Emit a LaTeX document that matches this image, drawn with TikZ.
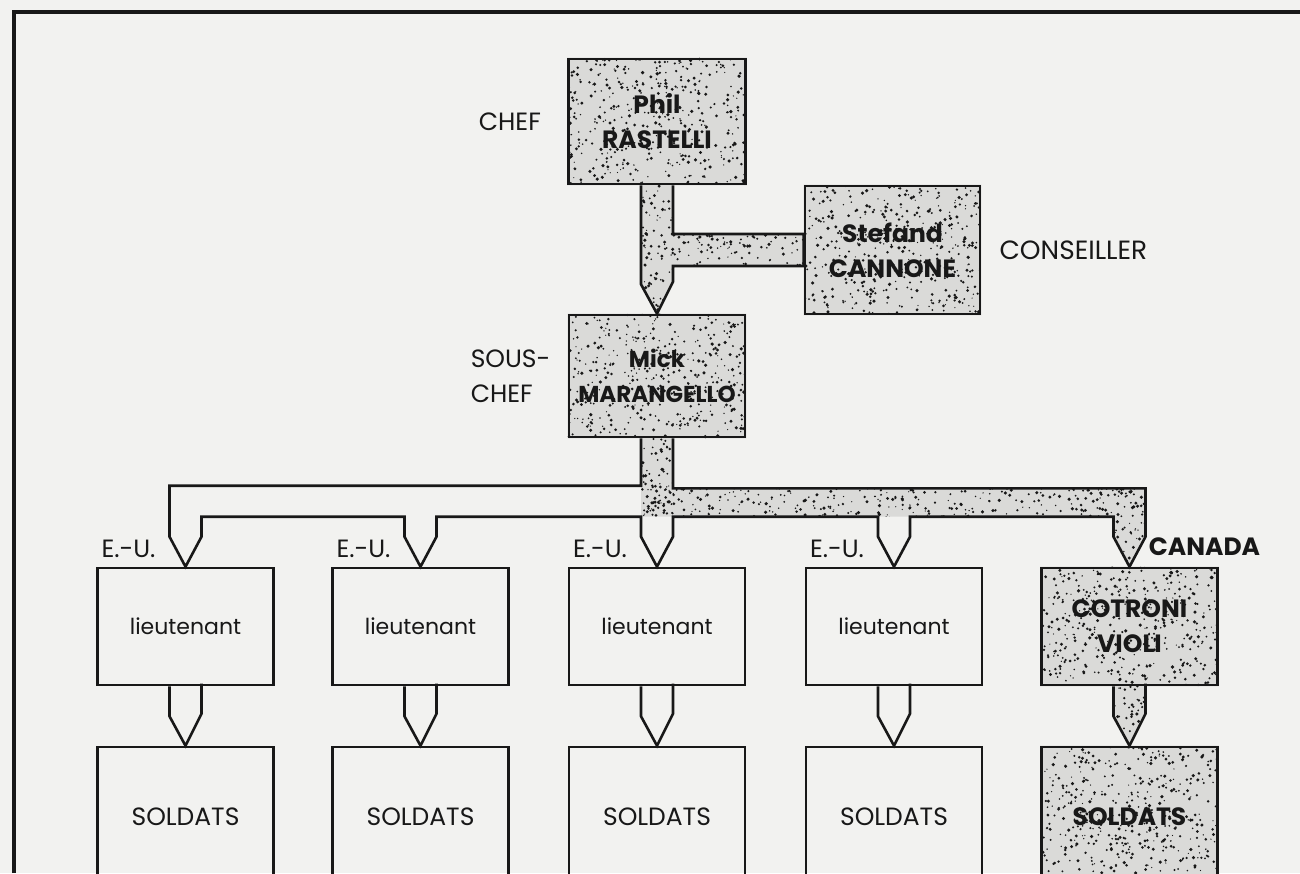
\documentclass[tikz,border=0pt]{standalone}
\usepackage{fontspec}
\setmainfont{Poppins}
\usetikzlibrary{calc,positioning}
\pgfdeclarelayer{back}
\pgfsetlayers{back,main}
\definecolor{paper}{RGB}{242,242,240}
\definecolor{stip}{RGB}{218,218,216}
\definecolor{ink}{RGB}{24,24,24}
\newcommand\orgfont{\fontsize{12.5}{17.5}\selectfont}
\newcommand\smallorg{\fontsize{11}{15}\selectfont}
\def\toppipe{($(rast.south)+(-16,0)$) -- ++(0,99) -- (mara.north) -- ++(16,-32) |- ($(cann.west)+(0,16)$) -- ($(cann.west)+(0,-16)$) -| ($(rast.south)+(16,0)$)}
\def\mainpipe{($(mara.south)+(-16,0)$) |- ($(lt1.north)+(-16,-81)$) -- ++(0,51) -- (lt1.north) -- ++(16,-30) |- ($(lt2.north)+(-16,-50)$) -- ++(0,20) -- (lt2.north) -- ++(16,-30) |- ($(lt3.north)+(-16,-50)$) -- ++(0,20) -- (lt3.north) -- ++(16,-30) |- ($(lt4.north)+(-16,-50)$) -- ++(0,20) -- (lt4.north) -- ++(16,-30) |- ($(lt5.north)+(-16,-50)$) -- ++(0,20) -- (lt5.north) -- ++(16,-30) |- ($(mara.south)+(16,50)$) -- ($(mara.south)+(16,0)$)}
\def\canpipe{($(mara.south)+(-16,0)$) |- ($(lt5.north)+(-16,-50)$) -- ++(0,20) -- (lt5.north) -- ++(16,-30) |- ($(mara.south)+(16,50)$) -- ($(mara.south)+(16,0)$)}
\def\canstub{($(lt5.south)+(-16,0)$) -- ++(0,30) -- (so5.north) -- ++(16,-32) -- ++(0,-30)}
\def\shaded{(rast.north west) rectangle (rast.south east) (cann.north west) rectangle (cann.south east) (mara.north west) rectangle (mara.south east) (lt5.north west) rectangle (lt5.south east) (so5.north west) rectangle (so5.south east) \toppipe -- cycle \canpipe -- cycle \canstub -- cycle}
\newcommand\speckle[5]{%
	\foreach \k in {1,...,#5}{%
		\pgfmathsetmacro\sx{#1+rnd*(#3-#1)}%
		\pgfmathsetmacro\sy{#2+rnd*(#4-#2)}%
		\pgfmathsetmacro\sr{0.3+rnd*0.6}%
		\fill[ink] (\sx,\sy) circle (\sr pt);
	}}

\begin{document}
\begin{tikzpicture}[x=0.5pt,y=-0.5pt,line width=1.3pt,
	box/.style={draw=ink,minimum width=88pt,font=\orgfont,text=ink,align=center,inner sep=0pt},
	boss/.style={box,font=\orgfont\bfseries},
	lieut/.style={box,minimum height=58.5pt,font=\smallorg},
	soldier/.style={box,minimum height=70pt},
	tag/.style={font=\orgfont,text=ink,inner sep=0pt,align=left},
	pipe/.style={draw=ink,line width=1.3pt,line join=miter}]
	\pgfmathsetseed{11}
	\clip (0,0) rectangle (1300,873);
	\node[boss,minimum width=88.5pt,minimum height=62.5pt] (rast) at (657,121.5) {Phil\\RASTELLI};
	\node[boss,minimum width=87.5pt,minimum height=64pt] (cann) at (892.5,250) {Stefand\\CANNONE};
	\node[boss,minimum height=61pt,font=\fontsize{11.5}{17.5}\selectfont\bfseries] (mara) at (657,376) {Mick\\MARANGELLO};
	\foreach \n/\x in {1/185.5,2/420.5,3/657,4/894}{
		\node[lieut] (lt\n) at (\x,626.5) {lieutenant};
		\node[soldier] (so\n) at (\x,817) {SOLDATS};
		\node[tag,anchor=south west] (eu\n) at ($(lt\n.north west)+(4,-8)$) {E.-U.};
	}
	\node[lieut,font=\orgfont\bfseries] (lt5) at (1129.5,626.5) {COTRONI\\VIOLI};
	\node[soldier,font=\orgfont\bfseries] (so5) at (1129.5,817) {SOLDATS};
	\node[tag,left=12.5pt of rast] (chef) {CHEF};
	\node[tag,right=8.5pt of cann,font=\fontsize{13.2}{17.5}\selectfont] (cons) {CONSEILLER};
	\node[tag,left=8pt of mara] (sous) {SOUS-\\CHEF};
	\node[tag,anchor=south west,font=\orgfont\bfseries] (can) at ($(lt5.north)+(18,-10)$) {CANADA};
	\begin{pgfonlayer}{back}
		\fill[paper] (0,0) rectangle (1300,873);
		\fill[stip] \shaded;
		\begin{scope}
			\clip \shaded;
			\speckle{568}{59}{746}{184}{420}
			\speckle{805}{186}{980}{314}{420}
			\speckle{569}{315}{745}{437}{410}
			\speckle{640}{184}{674}{316}{90}
			\speckle{672}{232}{806}{267}{90}
			\speckle{640}{437}{674}{520}{60}
			\speckle{640}{486}{1147}{520}{330}
			\speckle{1112}{486}{1147}{569}{60}
			\speckle{1040}{568}{1219}{685}{410}
			\speckle{1112}{685}{1147}{748}{45}
			\speckle{1040}{747}{1219}{873}{440}
		\end{scope}
		\draw[pipe] \toppipe;
		\draw[pipe] \mainpipe;
		\draw[pipe] \canstub;
		\foreach \n in {1,...,4}
			\draw[pipe] ($(lt\n.south)+(-16,0)$) -- ++(0,30) -- (so\n.north) -- ++(16,-32) -- ++(0,-30);
		\draw[ink,line width=2pt] (14,873) -- (14,12) -- (1300,12);
	\end{pgfonlayer}
\end{tikzpicture}
\end{document}
